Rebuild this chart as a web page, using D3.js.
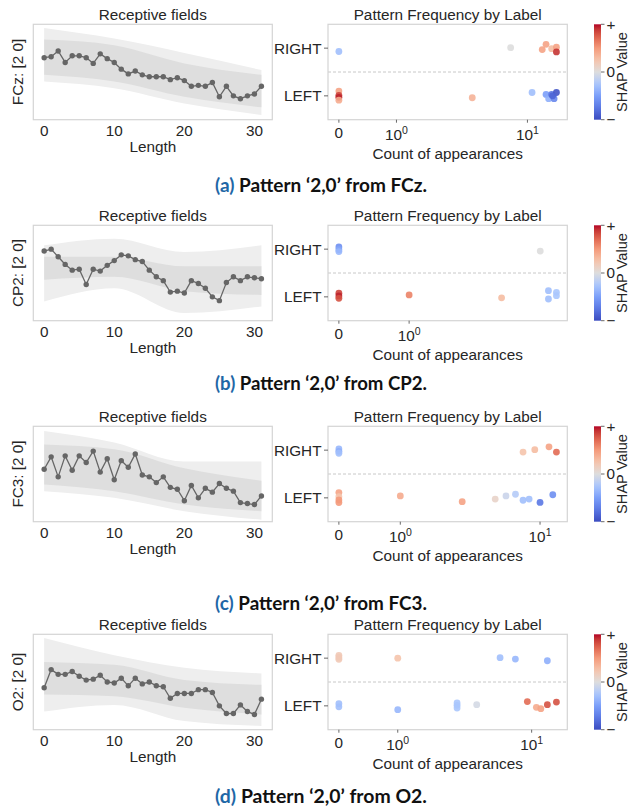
<!DOCTYPE html>
<html>
<head>
<meta charset="utf-8">
<script src="https://cdn.jsdelivr.net/npm/d3@7"></script>
<style>
body { margin: 0; background: #fff; }
svg { display: block; }
text { font-family: "Liberation Sans", Arial, sans-serif; fill: #262626; }
</style>
</head>
<body>
<svg id="chart" width="630" height="809"></svg>
<script>
// ---- data ----
var channels = ["FCz", "CP2", "FC3", "O2"];
var letters = ["a", "b", "c", "d"];
var lengthTicks = [0, 10, 20, 30];
var labels = ["RIGHT", "LEFT"];
var countTicks = [[0, 1, 10], [0, 1], [0, 1, 10], [0, 1, 10]];
var shapTicks = [[-1, "\u2212"], [0, "0"], [1, "+"]];

// highlighted receptive field (normalised amplitude, steps 0..31)
var rfFCz = [0.65,0.66,0.72,0.60,0.67,0.67,0.65,0.59,0.69,0.64,0.60,0.53,0.48,0.51,0.47,0.45,0.45,0.45,0.42,0.44,0.41,0.35,0.36,0.35,0.39,0.24,0.35,0.25,0.22,0.25,0.27,0.35];
var rfCP2 = [0.73,0.75,0.67,0.59,0.53,0.54,0.38,0.54,0.52,0.58,0.63,0.69,0.68,0.64,0.62,0.53,0.46,0.42,0.30,0.31,0.29,0.42,0.39,0.34,0.25,0.21,0.40,0.46,0.42,0.46,0.45,0.44];
var rfFC3 = [0.55,0.68,0.47,0.69,0.54,0.69,0.62,0.74,0.52,0.66,0.44,0.64,0.57,0.71,0.49,0.47,0.41,0.47,0.36,0.34,0.22,0.38,0.25,0.35,0.31,0.40,0.35,0.32,0.20,0.19,0.18,0.27];
var rfO2  = [0.44,0.63,0.58,0.58,0.61,0.56,0.52,0.53,0.57,0.50,0.49,0.54,0.46,0.54,0.48,0.50,0.46,0.45,0.33,0.38,0.38,0.38,0.42,0.42,0.39,0.25,0.17,0.17,0.26,0.19,0.16,0.32];

// envelope of the grey bundle of all other fields, at these steps
var bandX = [0, 10, 20, 31];
var outerTop = [[0.96,0.85,0.70,0.52],[0.79,0.86,0.72,0.79],[0.95,0.83,0.63,0.63],[0.96,0.78,0.65,0.59]];
var outerBot = [[0.40,0.33,0.17,0.05],[0.20,0.34,0.08,0.15],[0.32,0.25,0.11,0.02],[0.19,0.26,0.09,0.04]];
var innerTop = [[0.84,0.78,0.59,0.47],[0.67,0.67,0.57,0.57],[0.81,0.76,0.56,0.43],[0.71,0.68,0.52,0.47]];
var innerBot = [[0.47,0.40,0.24,0.13],[0.43,0.46,0.31,0.27],[0.39,0.32,0.18,0.11],[0.37,0.35,0.23,0.16]];

// strip points: [label index (0 RIGHT, 1 LEFT), count, jitter, shap]
var ptsFCz = [[0,0,0.07,-0.3],[0,7.8,-0.01,0.0],[0,12.4,0.03,0.45],[0,13.1,-0.08,0.45],[0,14.2,0.01,0.3],[0,15.2,-0.02,0.45],[0,15.2,0.08,0.9],
  [1,0,-0.10,0.45],[1,0,-0.01,0.85],[1,0,0.03,0.95],[1,0,0.09,0.4],[1,4.3,0.04,0.35],[1,10.7,-0.07,-0.3],[1,13.1,-0.03,-0.5],
  [1,13.6,0.06,-0.4],[1,14.2,-0.03,-0.75],[1,14.7,0.06,-0.65],[1,15.2,-0.07,-0.95],[1,14.4,0.0,-0.85]];
var ptsCP2 = [[0,0,-0.045,-0.6],[0,0,0.01,-0.45],[0,0,0.05,-0.35],[0,7.05,0.04,0.0],
  [1,0,-0.075,0.85],[1,0,-0.02,0.95],[1,0,0.03,0.8],[1,1.0,-0.04,0.6],[1,4.3,0.02,0.3],
  [1,7.8,-0.13,-0.3],[1,7.8,0.045,-0.3],[1,8.6,-0.095,-0.25],[1,8.6,-0.025,-0.25]];
var ptsFC3 = [[0,0,-0.025,-0.35],[0,0,0.025,-0.4],[0,0,0.065,-0.3],[0,7.9,0.04,0.25],[0,9.3,-0.01,0.3],[0,11.3,-0.07,0.45],[0,12.5,0.04,0.7],
  [1,0,-0.11,0.45],[1,0,-0.025,0.25],[1,0,0.045,0.5],[1,0,0.1,0.5],[1,1.0,-0.04,0.4],[1,3.2,0.08,0.45],[1,5.3,0.025,0.1],
  [1,6.2,-0.04,-0.1],[1,7.1,-0.075,-0.2],[1,7.9,0.05,-0.3],[1,8.6,0.025,-0.3],[1,10.0,0.095,-0.75],[1,11.9,-0.065,-0.6]];
var ptsO2 = [[0,0,-0.06,0.2],[0,0,-0.015,0.2],[0,0,0.025,0.2],[0,1.0,0.0,0.25],[0,6.3,-0.01,-0.3],[0,7.9,0.02,-0.35],[0,12.5,0.055,-0.4],
  [1,0,-0.045,-0.3],[1,0,0.02,-0.3],[1,1.0,0.08,-0.35],[1,3.2,-0.06,-0.25],[1,3.2,-0.01,-0.25],[1,3.2,0.045,-0.25],[1,4.4,-0.025,-0.05],
  [1,9.4,-0.09,0.7],[1,10.7,0.03,0.4],[1,11.4,0.06,0.45],[1,12.5,-0.025,0.8],[1,14.2,-0.08,0.8]];

var fields = [rfFCz, rfCP2, rfFC3, rfO2];
var points = [ptsFCz, ptsCP2, ptsFC3, ptsO2];

// ---- layout ----
var svg = d3.select("#chart");
var tops = [24.3, 225.3, 426.3, 634.3];
var capY = [185, 383, 603, 796];
var boxH = 95.4;
var LX = [33.3, 272.3], RX = [328, 567.3], CBX = [594, 601];
var C = 0.85;   // symlog constant
var fs = 15.3;

var color = d3.scaleLinear()
  .domain([-1, -0.75, -0.5, -0.25, 0, 0.25, 0.5, 0.75, 1])
  .range(["#3b4cc0", "#5a78e4", "#7b9ff9", "#aac7fd", "#dddddd", "#f5c4ac", "#f49a7b", "#dd5f4b", "#b40426"])
  .interpolate(d3.interpolateLab);

var defs = svg.append("defs");
var grad = defs.append("linearGradient").attr("id", "cw")
  .attr("x1", 0).attr("y1", 1).attr("x2", 0).attr("y2", 0);
d3.range(0, 1.0001, 0.05).forEach(function(t) {
  grad.append("stop").attr("offset", t).attr("stop-color", color(t * 2 - 1));
});

function symInv(f) { return Math.sign(f) * C * Math.expm1(Math.abs(f)); }

channels.forEach(function(ch, p) {
  var top = tops[p], bot = top + boxH;
  var g = svg.append("g");

  // ---------- left: receptive fields ----------
  var xL = d3.scaleLinear().domain([-1.55, 32.55]).range(LX);
  var yL = d3.scaleLinear().domain([0, 1]).range([bot, top]);

  var band = function(hi, lo) {
    return bandX.map(function(x, i) { return { x: x, hi: hi[p][i], lo: lo[p][i] }; });
  };
  var area = d3.area().x(function(d) { return xL(d.x); })
    .y0(function(d) { return yL(d.lo); }).y1(function(d) { return yL(d.hi); })
    .curve(d3.curveMonotoneX);

  g.append("path").datum(band(outerTop, outerBot)).attr("d", area)
    .attr("fill", "#eeeeee");
  g.append("path").datum(band(innerTop, innerBot)).attr("d", area)
    .attr("fill", "#dedede");

  var line = d3.line().x(function(d, i) { return xL(i); }).y(function(d) { return yL(d); });
  g.append("path").datum(fields[p]).attr("d", line)
    .attr("fill", "none").attr("stroke", "#666").attr("stroke-width", 1.3);
  g.selectAll(".rf").data(fields[p]).enter().append("circle")
    .attr("cx", function(d, i) { return xL(i); }).attr("cy", function(d) { return yL(d); })
    .attr("r", 2.7).attr("fill", "#666");

  g.append("rect").attr("x", LX[0]).attr("y", top).attr("width", LX[1] - LX[0]).attr("height", boxH)
    .attr("fill", "none").attr("stroke", "#d4d4d4").attr("stroke-width", 1.2);

  g.selectAll(".lt").data(lengthTicks).enter().append("text")
    .attr("x", function(d) { return xL(d); }).attr("y", top + 106.5).attr("dy", "0.35em")
    .attr("text-anchor", "middle").style("font-size", fs + "px").text(function(d) { return d; });
  g.append("text").attr("x", (LX[0] + LX[1]) / 2).attr("y", top + 122.7).attr("dy", "0.35em")
    .attr("text-anchor", "middle").style("font-size", fs + "px").text("Length");
  g.append("text").attr("x", (LX[0] + LX[1]) / 2).attr("y", top - 9.3).attr("dy", "0.35em")
    .attr("text-anchor", "middle").style("font-size", fs + "px").text("Receptive fields");
  g.append("text").attr("transform", "translate(17.5," + (top + boxH / 2) + ") rotate(-90)")
    .attr("dy", "0.35em").attr("text-anchor", "middle").style("font-size", fs + "px")
    .text(ch + ": [2 0]");

  // ---------- right: pattern frequency ----------
  var pts = points[p];
  var fmax = Math.log1p(d3.max(pts, function(d) { return d[1]; }) / C);
  var xR = d3.scaleSymlog().constant(C)
    .domain([symInv(-0.05 * fmax), symInv(1.05 * fmax)]).range(RX);
  var yR = d3.scaleLinear().domain([-0.5, 1.5]).range([top, bot]);

  g.append("line").attr("x1", RX[0]).attr("x2", RX[1])
    .attr("y1", yR(0.5)).attr("y2", yR(0.5))
    .attr("stroke", "#c8c8c8").attr("stroke-width", 1).attr("stroke-dasharray", "3,2");

  g.selectAll(".pt").data(pts).enter().append("circle")
    .attr("cx", function(d) { return xR(d[1]); })
    .attr("cy", function(d) { return yR(d[0] + d[2]); })
    .attr("r", 3.4).attr("fill", function(d) { return color(d[3]); }).attr("opacity", 0.9);

  g.append("rect").attr("x", RX[0]).attr("y", top).attr("width", RX[1] - RX[0]).attr("height", boxH)
    .attr("fill", "none").attr("stroke", "#d4d4d4").attr("stroke-width", 1.2);

  // x ticks (symlog labels)
  countTicks[p].forEach(function(t) {
    var x = xR(t);
    g.append("line").attr("x1", x).attr("x2", x).attr("y1", bot).attr("y2", bot + 3)
      .attr("stroke", "#444").attr("stroke-width", 0.8);
    if (t === 0) {
      g.append("text").attr("x", x).attr("y", top + 108.2).attr("dy", "0.35em")
        .attr("text-anchor", "middle").style("font-size", fs + "px").text("0");
    } else {
      var tx = g.append("text").attr("x", x).attr("y", top + 110.2).attr("dy", "0.35em")
        .attr("text-anchor", "middle").style("font-size", fs + "px");
      tx.append("tspan").text("10");
      tx.append("tspan").attr("dy", "-0.55em").style("font-size", "10.5px")
        .text(Math.round(Math.log10(t)));
    }
  });
  g.append("text").attr("x", (RX[0] + RX[1]) / 2).attr("y", top + 129.2).attr("dy", "0.35em")
    .attr("text-anchor", "middle").style("font-size", fs + "px").text("Count of appearances");
  g.append("text").attr("x", (RX[0] + RX[1]) / 2).attr("y", top - 9.3).attr("dy", "0.35em")
    .attr("text-anchor", "middle").style("font-size", fs + "px").text("Pattern Frequency by Label");

  labels.forEach(function(lb, i) {
    g.append("line").attr("x1", RX[0] - 4).attr("x2", RX[0]).attr("y1", yR(i)).attr("y2", yR(i))
      .attr("stroke", "#444").attr("stroke-width", 0.8);
    g.append("text").attr("x", RX[0] - 6.5).attr("y", yR(i)).attr("dy", "0.35em")
      .attr("text-anchor", "end").style("font-size", fs + "px").text(lb);
  });

  // ---------- colourbar ----------
  var yC = d3.scaleLinear().domain([-1, 1]).range([bot, top]);
  g.append("rect").attr("x", CBX[0]).attr("y", top).attr("width", CBX[1] - CBX[0]).attr("height", boxH)
    .attr("fill", "url(#cw)");
  shapTicks.forEach(function(t) {
    g.append("line").attr("x1", CBX[1]).attr("x2", CBX[1] + 3.5).attr("y1", yC(t[0])).attr("y2", yC(t[0]))
      .attr("stroke", "#444").attr("stroke-width", 0.8);
    g.append("text").attr("x", CBX[1] + 5.5).attr("y", yC(t[0])).attr("dy", "0.35em")
      .style("font-size", fs + "px").text(t[1]);
  });
  g.append("text").attr("transform", "translate(622.5," + (top + boxH / 2) + ") rotate(-90)")
    .attr("dy", "0.33em").attr("text-anchor", "middle").style("font-size", "14.6px").text("SHAP Value");

  // ---------- caption ----------
  var cap = svg.append("text").attr("x", 321).attr("y", capY[p]).attr("dy", "0.35em")
    .attr("text-anchor", "middle")
    .style("font-family", "Lato, 'Open Sans', sans-serif").style("font-weight", 700).style("font-size", "17px");
  cap.append("tspan").style("fill", "#1f67a6").text("(" + letters[p] + ")");
  cap.append("tspan").style("fill", "#111").text(" Pattern \u20182,0\u2019 from " + ch + ".");
  var w = cap.node().getComputedTextLength();
  if (w > 0) cap.style("font-size", (17 * 212 / w).toFixed(2) + "px");
});
</script>
</body>
</html>
